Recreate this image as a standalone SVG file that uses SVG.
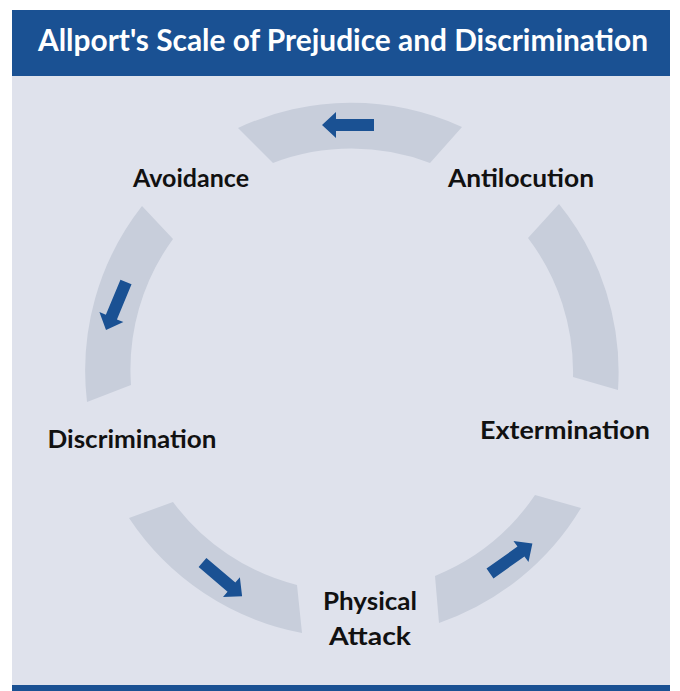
<svg xmlns="http://www.w3.org/2000/svg" xmlns:xlink="http://www.w3.org/1999/xlink" width="680" height="691" viewBox="0 0 680 691">
<style>
.seg{fill:#c8cedb}
.arrow{fill:#1a5193}
.lbl{font-family:Lato,"Open Sans","Liberation Sans",sans-serif;font-weight:bold;font-size:25px;fill:#111;text-anchor:middle}
.title{font-family:Lato,"Open Sans","Liberation Sans",sans-serif;font-weight:bold;font-size:30px;fill:#fff;text-anchor:middle}
</style>
<defs>
<path id="arr" d="M0,-6 H38 V-13 L52,0 L38,13 V6 H0 Z"/>
</defs>
<rect x="0" y="0" width="680" height="691" fill="#fff"/>
<rect x="12" y="76" width="658" height="610" fill="#dfe2ec"/>
<rect x="12" y="10" width="658" height="66" fill="#1a5193"/>
<rect x="12" y="685" width="658" height="6" fill="#1a5193"/>
<text class="title" x="343" y="51" textLength="610" lengthAdjust="spacingAndGlyphs">Allport's Scale of Prejudice and Discrimination</text>
<g id="segments">
<path id="seg-top" class="seg" d="M238 128 A267 267 0 0 1 462 127 L430 163 A221 221 0 0 0 273 163 Z"/>
<path id="seg-right" class="seg" d="M559 204 A267 267 0 0 1 618 390 L573 377 A221 221 0 0 0 528 238 Z"/>
<path id="seg-left" class="seg" d="M142 206 A267 267 0 0 0 87 402 L131 385 A221 221 0 0 1 173 239 Z"/>
<path id="seg-bottom-left" class="seg" d="M129 518 A267 267 0 0 0 302 633 L297 585 A221 221 0 0 1 173 502 Z"/>
<path id="seg-bottom-right" class="seg" d="M439 623 A267 267 0 0 0 581 508 L535 495 A221 221 0 0 1 435 576 Z"/>
</g>
<g id="connectors">
<use xlink:href="#arr" class="arrow" transform="translate(374,125) rotate(180)"/>
<use xlink:href="#arr" class="arrow" transform="translate(126,282) rotate(112.6)"/>
<use xlink:href="#arr" class="arrow" transform="translate(202.5,562.5) rotate(40.4)"/>
<use xlink:href="#arr" class="arrow" transform="translate(490,573.5) rotate(-35.4)"/>
</g>
<g id="node-avoidance"><text class="lbl" x="191" y="187" textLength="116" lengthAdjust="spacingAndGlyphs">Avoidance</text></g>
<g id="node-antilocution"><text class="lbl" x="521" y="187" textLength="146" lengthAdjust="spacingAndGlyphs">Antilocution</text></g>
<g id="node-discrimination"><text class="lbl" x="132" y="448" textLength="169" lengthAdjust="spacingAndGlyphs">Discrimination</text></g>
<g id="node-extermination"><text class="lbl" x="565" y="439" textLength="170" lengthAdjust="spacingAndGlyphs">Extermination</text></g>
<g id="node-physical-attack"><text class="lbl" x="370" y="610" textLength="94" lengthAdjust="spacingAndGlyphs">Physical</text><text class="lbl" x="370" y="645" textLength="82" lengthAdjust="spacingAndGlyphs">Attack</text></g>
</svg>
